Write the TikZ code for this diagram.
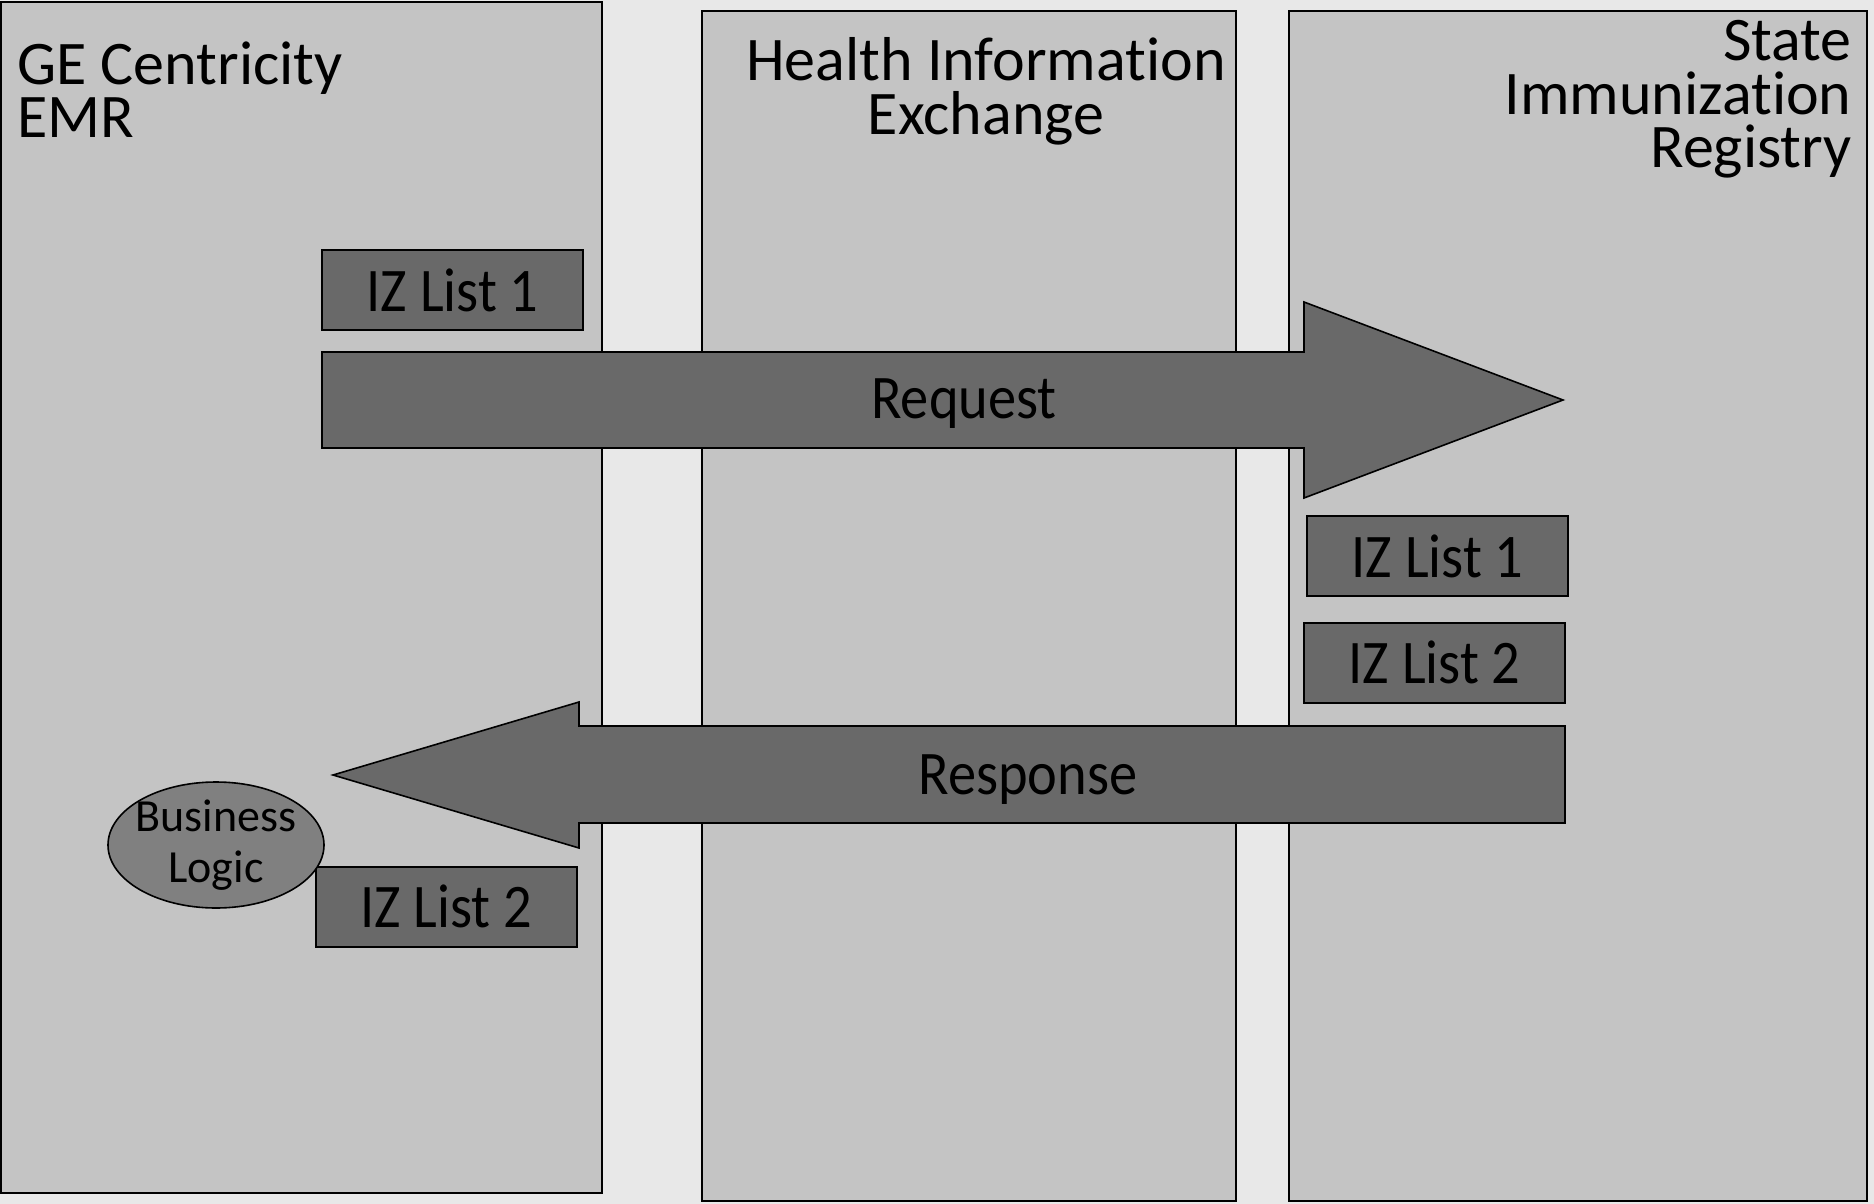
\documentclass[tikz,border=0pt]{standalone}
\usepackage{fontspec}
\setmainfont{Carlito}[Ligatures=NoCommon]
\newfontfamily\narrowfont{Carlito}[FakeStretch=0.91, Ligatures=NoCommon]
\usetikzlibrary{shapes.geometric}
\definecolor{bggray}{RGB}{232,232,232}
\definecolor{panelgray}{RGB}{196,196,196}
\definecolor{boxgray}{RGB}{105,105,105}
\definecolor{logicgray}{RGB}{128,128,128}
\newcommand{\panelfont}{\fontsize{31}{26.75}\selectfont}
\newcommand{\boxfont}{\narrowfont\fontsize{31}{27}\selectfont}
\newcommand{\logicfont}{\fontsize{23}{25.5}\selectfont}
\tikzset{
  panel/.style={draw=black, line width=1pt, fill=panelgray},
  title/.style={inner sep=0pt, font=\panelfont},
  label/.style={inner sep=0pt, font=\boxfont},
  listbox/.style={draw=black, line width=1pt, fill=boxgray, minimum width=130.5pt, minimum height=40pt, inner sep=0pt, font=\boxfont},
  bigarrow/.style={draw=black, line width=0.8pt, fill=boxgray},
}
\begin{document}
\begin{tikzpicture}[x=0.5pt,y=-0.5pt]
        \useasboundingbox (0,0) rectangle (1874,1204);
        \fill [bggray] (0,0) rectangle (1874,1204);
        \draw [panel] (1,2) rectangle (602,1193);
        \draw [panel] (702,11) rectangle (1236,1201);
        \draw [panel] (1289,11) rectangle (1867,1201);
        \node [title, anchor=base west, align=left] (emr) at (17,138) {GE Centricity\\EMR};
        \node [title, anchor=base, align=center] (hie) at (986,134) {Health Information\\Exchange};
        \node [title, anchor=base east, align=right] (iis) at (1852,168) {State\\Immunization\\Registry};
        \node [listbox] (emrlist1) at (452.5,290) {IZ List 1};
        \node [listbox] (iislist1) at (1437.5,556) {IZ List 1};
        \node [listbox] (iislist2) at (1434.5,662.5) {IZ List 2};
        \node [listbox] (emrlist2) at (446,906.5) {IZ List 2};
        \draw [bigarrow] (322,352) -- (1304,352) -- (1304,302) -- (1563,400) -- (1304,498) -- (1304,448) -- (322,448) -- cycle;
        \node [label, anchor=base] (request) at (964,418) {Request};
        \draw [bigarrow] (1565,726) -- (579,726) -- (579,702) -- (333,775) -- (579,848) -- (579,823) -- (1565,823) -- cycle;
        \node [label, anchor=base] (response) at (1028,794) {Response};
        \node [ellipse, draw=black, line width=0.8pt, fill=logicgray, minimum width=108pt, minimum height=63pt, inner sep=-3pt, align=center, font=\logicfont] (logic) at (216,845) {Business\\Logic};
      \end{tikzpicture}
\end{document}
